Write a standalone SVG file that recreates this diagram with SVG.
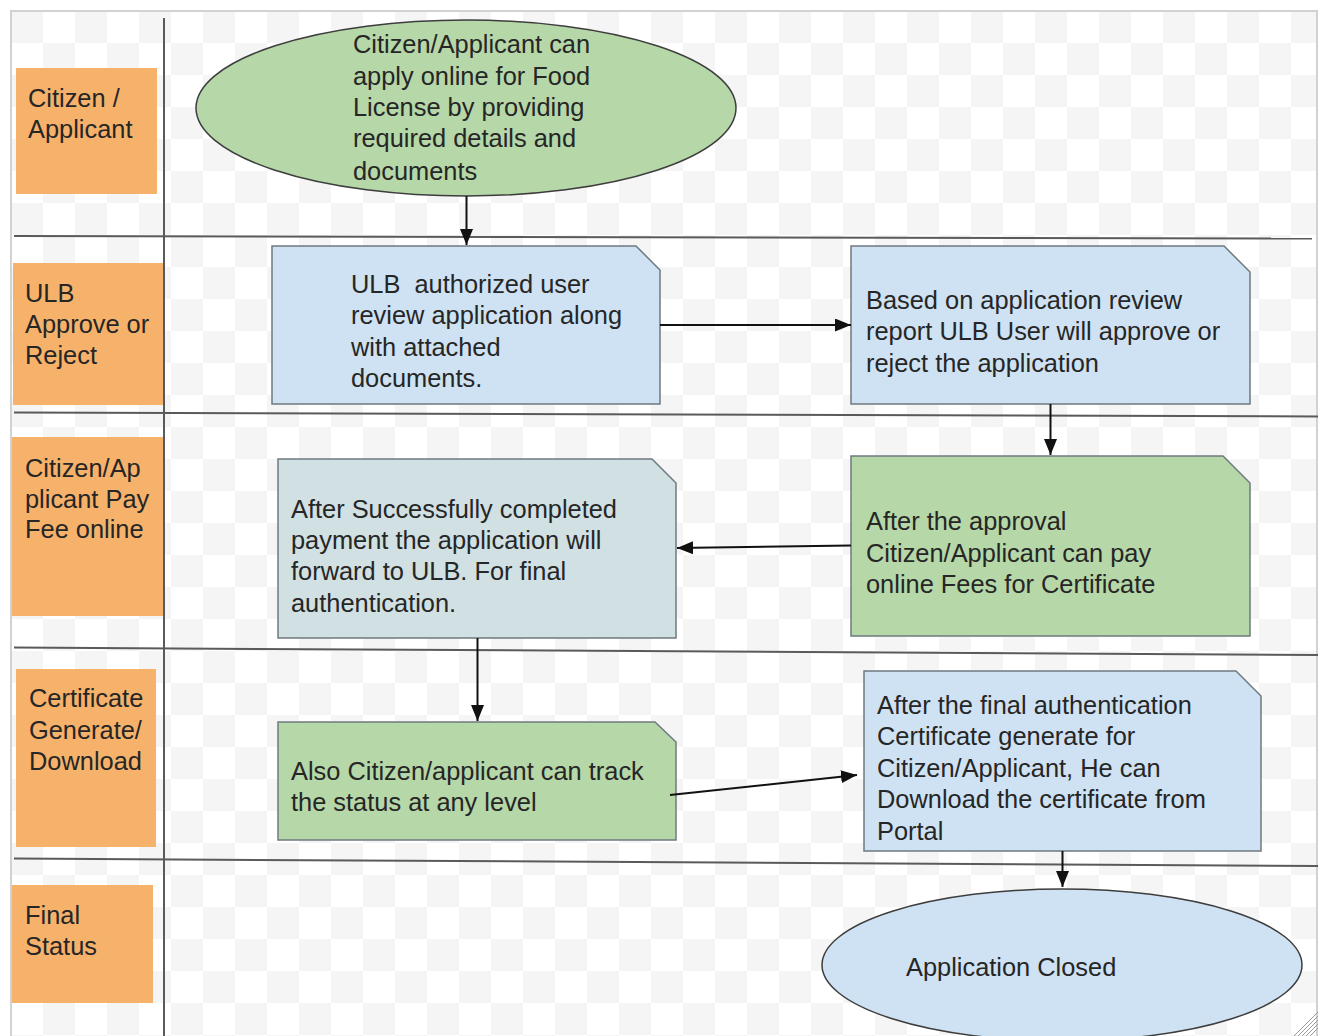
<svg xmlns="http://www.w3.org/2000/svg" width="1324" height="1036" viewBox="0 0 1324 1036">
<defs>
<pattern id="checker" patternUnits="userSpaceOnUse" x="11" y="11" width="64" height="64">
<rect x="0" y="0" width="64" height="64" fill="#ffffff"/>
<rect x="0" y="0" width="32" height="32" fill="#f5f5f5"/>
<rect x="32" y="32" width="32" height="32" fill="#f5f5f5"/>
</pattern>
<marker id="arrow" markerUnits="userSpaceOnUse" markerWidth="17" markerHeight="13" refX="16" refY="6.5" orient="auto">
<path d="M0,0 L16,6.5 L0,13 Z" fill="#111"/>
</marker>
<style>
.t{font-family:"Liberation Sans",Arial,sans-serif;font-size:25.4px;fill:#262626}
.lane{fill:#f6b26b}
.box{stroke:#6f7a80;stroke-width:1.5}
.ell{stroke:#3d3d3d;stroke-width:1.5}
.blue{fill:#cfe2f3}
.green{fill:#b6d7a8}
.cyan{fill:#d0e0e3}
.sep{stroke:#5a5a5a;stroke-width:2;fill:none}
.conn{stroke:#111;stroke-width:2;fill:none;marker-end:url(#arrow)}
</style>
</defs>
<rect x="0" y="0" width="1324" height="1036" fill="#ffffff"/>
<rect x="11" y="11" width="1306" height="1040" fill="url(#checker)" stroke="#d2d2d2" stroke-width="2"/>
<g id="grid">
<line class="sep" x1="164" y1="18" x2="164" y2="1036"/>
<line class="sep" x1="14" y1="236" x2="1312" y2="238.5"/>
<line class="sep" x1="14" y1="412.5" x2="1318" y2="416.5"/>
<line class="sep" x1="14" y1="647.5" x2="1318" y2="655"/>
<line class="sep" x1="14" y1="858.5" x2="1318" y2="866"/>
</g>
<g id="lane-citizen">
<rect class="lane" x="16" y="68" width="141" height="126"/>
<text class="t" x="28" y="107">Citizen /</text>
<text class="t" x="28" y="138">Applicant</text>
</g>
<g id="lane-ulb">
<rect class="lane" x="13" y="263" width="150" height="142"/>
<text class="t" x="25" y="302">ULB</text>
<text class="t" x="25" y="333">Approve or</text>
<text class="t" x="25" y="364">Reject</text>
</g>
<g id="lane-pay">
<rect class="lane" x="12" y="437" width="151" height="179"/>
<text class="t" x="25" y="477">Citizen/Ap</text>
<text class="t" x="25" y="508">plicant Pay</text>
<text class="t" x="25" y="538">Fee online</text>
</g>
<g id="lane-certificate">
<rect class="lane" x="16" y="669" width="140" height="178"/>
<text class="t" x="29" y="707">Certificate</text>
<text class="t" x="29" y="739">Generate/</text>
<text class="t" x="29" y="770">Download</text>
</g>
<g id="lane-final">
<rect class="lane" x="12" y="885" width="141" height="118"/>
<text class="t" x="25" y="924">Final</text>
<text class="t" x="25" y="955">Status</text>
</g>
<g id="apply">
<ellipse class="green ell" cx="466" cy="108" rx="270" ry="88"/>
<text class="t" x="353" y="53">Citizen/Applicant can</text>
<text class="t" x="353" y="85">apply online for Food</text>
<text class="t" x="353" y="116">License by providing</text>
<text class="t" x="353" y="147">required details and</text>
<text class="t" x="353" y="180">documents</text>
</g>
<g id="review">
<path class="blue box" d="M272,246 H636 L660,270 V404 H272 Z"/>
<text class="t" x="351" y="293" xml:space="preserve">ULB  authorized user</text>
<text class="t" x="351" y="324">review application along</text>
<text class="t" x="351" y="356">with attached</text>
<text class="t" x="351" y="387">documents.</text>
</g>
<g id="approve">
<path class="blue box" d="M851,246 H1224 L1250,272 V404 H851 Z"/>
<text class="t" x="866" y="309">Based on application review</text>
<text class="t" x="866" y="340">report ULB User will approve or</text>
<text class="t" x="866" y="372">reject the application</text>
</g>
<g id="pay">
<path class="green box" d="M851,456 H1223 L1250,483 V636 H851 Z"/>
<text class="t" x="866" y="530">After the approval</text>
<text class="t" x="866" y="562">Citizen/Applicant can pay</text>
<text class="t" x="866" y="593">online Fees for Certificate</text>
</g>
<g id="forward">
<path class="cyan box" d="M278,459 H652 L676,483 V638 H278 Z"/>
<text class="t" x="291" y="518">After Successfully completed</text>
<text class="t" x="291" y="549">payment the application will</text>
<text class="t" x="291" y="580">forward to ULB. For final</text>
<text class="t" x="291" y="612">authentication.</text>
</g>
<g id="track">
<path class="green box" d="M278,722 H655 L676,742 V840 H278 Z"/>
<text class="t" x="291" y="780">Also Citizen/applicant can track</text>
<text class="t" x="291" y="811">the status at any level</text>
</g>
<g id="certificate">
<path class="blue box" d="M864,671 H1236 L1261,696 V851 H864 Z"/>
<text class="t" x="877" y="714">After the final authentication</text>
<text class="t" x="877" y="745">Certificate generate for</text>
<text class="t" x="877" y="777">Citizen/Applicant, He can</text>
<text class="t" x="877" y="808">Download the certificate from</text>
<text class="t" x="877" y="840">Portal</text>
</g>
<g id="closed">
<ellipse class="blue ell" cx="1062" cy="965" rx="240" ry="76"/>
<text class="t" x="906" y="976">Application Closed</text>
</g>
<g id="connectors">
<line class="conn" x1="466.5" y1="196" x2="466.5" y2="245"/>
<line class="conn" x1="660" y1="325" x2="851" y2="325"/>
<line class="conn" x1="1050.5" y1="404" x2="1050.5" y2="455"/>
<line class="conn" x1="851" y1="545.5" x2="677" y2="548"/>
<line class="conn" x1="477.5" y1="638" x2="477.5" y2="721"/>
<line class="conn" x1="670" y1="795" x2="857" y2="775"/>
<line class="conn" x1="1062.5" y1="851" x2="1062.5" y2="887"/>
</g>
<g id="resize-grip" stroke="#9a9a9a" stroke-width="1">
<line x1="1318" y1="1012" x2="1294" y2="1036"/>
<line x1="1318" y1="1016" x2="1298" y2="1036"/>
<line x1="1318" y1="1020" x2="1302" y2="1036"/>
<line x1="1318" y1="1024" x2="1306" y2="1036"/>
<line x1="1318" y1="1028" x2="1310" y2="1036"/>
</g>
</svg>
